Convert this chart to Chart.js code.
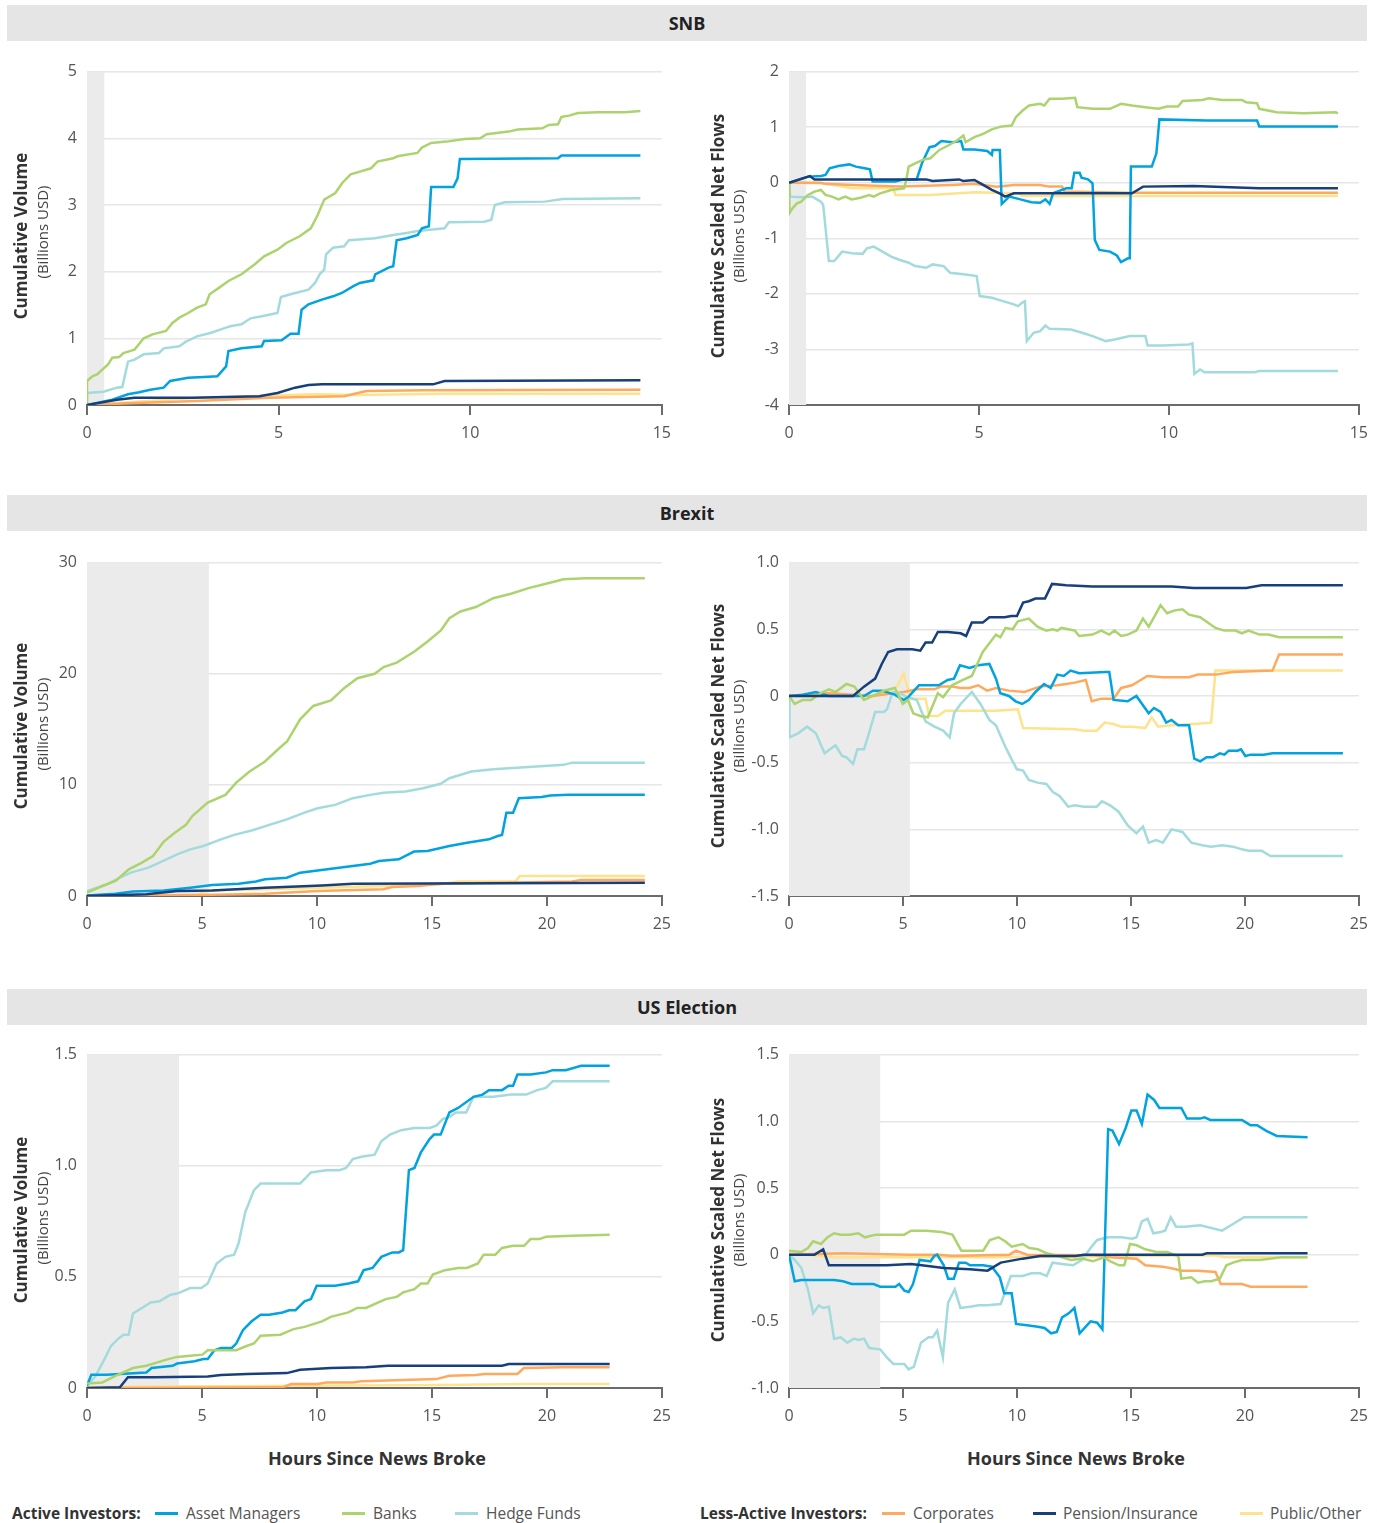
<!DOCTYPE html>
<html>
<head>
<meta charset="utf-8">
<script src="https://cdn.jsdelivr.net/npm/chart.js@4.4.1/dist/chart.umd.min.js"></script>
<style>
  html, body { margin:0; padding:0; background:#fff; }
  body { width:1377px; height:1523px; position:relative; overflow:hidden; font-family:"Open Sans", "Liberation Sans", sans-serif; }
  .hdr { position:absolute; left:7px; width:1360px; height:36px; background:#e5e5e5; color:#222;
         font-weight:700; font-size:18px; line-height:36px; text-align:center; }
  .cv { position:absolute; }
  .yt { position:absolute; white-space:nowrap; transform:translate(-50%,-50%) rotate(-90deg); color:#333; }
  .yt.b { font-weight:700; font-size:17px; }
  .yt.s { font-size:15px; color:#444; }
  .xt { position:absolute; white-space:nowrap; transform:translate(-50%,-50%); font-weight:700; font-size:18px; color:#333; }
  .lg { position:absolute; top:1513px; transform:translateY(-50%); white-space:nowrap; font-size:15.5px; color:#555; }
  .lg.b { font-weight:700; color:#333; }
  .sw { position:absolute; top:1512px; width:23px; height:3px; }
</style>
</head>
<body>
<div class="hdr" style="top:5px">SNB</div>
<div class="hdr" style="top:495px">Brexit</div>
<div class="hdr" style="top:989px">US Election</div>

<div class="cv" style="left:0;top:52px;width:680px;height:397px"><canvas id="c1"></canvas></div>
<div class="cv" style="left:700px;top:52px;width:677px;height:397px"><canvas id="c2"></canvas></div>
<div class="cv" style="left:0;top:543px;width:680px;height:397px"><canvas id="c3"></canvas></div>
<div class="cv" style="left:700px;top:543px;width:677px;height:397px"><canvas id="c4"></canvas></div>
<div class="cv" style="left:0;top:1035px;width:680px;height:397px"><canvas id="c5"></canvas></div>
<div class="cv" style="left:700px;top:1035px;width:677px;height:397px"><canvas id="c6"></canvas></div>

<div class="yt b" style="left:20px;top:236px">Cumulative Volume</div>
<div class="yt s" style="left:42px;top:232px">(Billions USD)</div>
<div class="yt b" style="left:717px;top:236px">Cumulative Scaled Net Flows</div>
<div class="yt s" style="left:738px;top:236px">(Billions USD)</div>
<div class="yt b" style="left:20px;top:726px">Cumulative Volume</div>
<div class="yt s" style="left:42px;top:724px">(Billions USD)</div>
<div class="yt b" style="left:717px;top:726px">Cumulative Scaled Net Flows</div>
<div class="yt s" style="left:738px;top:726px">(Billions USD)</div>
<div class="yt b" style="left:20px;top:1220px">Cumulative Volume</div>
<div class="yt s" style="left:42px;top:1218px">(Billions USD)</div>
<div class="yt b" style="left:717px;top:1220px">Cumulative Scaled Net Flows</div>
<div class="yt s" style="left:738px;top:1220px">(Billions USD)</div>

<div class="xt" style="left:377px;top:1458px">Hours Since News Broke</div>
<div class="xt" style="left:1076px;top:1458px">Hours Since News Broke</div>

<div id="legend"></div>

<script>
// ---------- categories / labels ----------
const groupTitles = ["SNB", "Brexit", "US Election"];
const seriesNames = ["Asset Managers", "Banks", "Hedge Funds", "Corporates", "Pension/Insurance", "Public/Other"];
const seriesColors = ["#00a3e0", "#add36e", "#a3dbdc", "#ffa95e", "#173f7c", "#ffe28c"];
const activeLabel = "Active Investors:";
const lessActiveLabel = "Less-Active Investors:";
const xTitle = "Hours Since News Broke";

// shaded "news window" (hours)
const snbShade = 0.45, brexitShade = 5.3, usShade = 4.0;
// axis ranges / ticks
const snbXMax = 15, otherXMax = 25;
const snbVolTicks = [0, 5, 1];
const snbFlowTicks = [-4, 2, 1];
const brexitVolTicks = [0, 30, 10];
const brexitFlowTicks = [-1.5, 1.0, 0.5];
const usVolTicks = [0, 1.5, 0.5];
const usFlowTicks = [-1.0, 1.5, 0.5];

// ---------- SNB: cumulative volume [hour, value] ----------
const snbVolAsset = [[0,0],[0.66,0.08],[1.07,0.16],[1.36,0.19],[1.65,0.23],[2.0,0.26],[2.17,0.36],[2.64,0.41],[3.05,0.42],[3.4,0.43],[3.63,0.58],[3.69,0.81],[4.03,0.85],[4.56,0.88],[4.62,0.96],[5.08,0.97],[5.31,1.07],[5.52,1.07],[5.6,1.43],[5.78,1.51],[6.13,1.58],[6.42,1.63],[6.65,1.68],[6.94,1.78],[7.12,1.83],[7.47,1.87],[7.52,1.96],[7.87,2.06],[7.99,2.08],[8.08,2.47],[8.34,2.5],[8.63,2.55],[8.74,2.65],[8.92,2.68],[8.98,3.27],[9.56,3.27],[9.67,3.4],[9.73,3.69],[12.29,3.7],[12.38,3.74],[14.44,3.74]];
const snbVolBanks = [[0,0],[0,0.36],[0.14,0.43],[0.26,0.46],[0.55,0.61],[0.66,0.71],[0.84,0.72],[0.95,0.78],[1.24,0.83],[1.48,1.0],[1.71,1.06],[2.06,1.11],[2.23,1.23],[2.41,1.31],[2.64,1.38],[2.87,1.46],[3.1,1.51],[3.2,1.66],[3.45,1.76],[3.69,1.86],[4.03,1.96],[4.38,2.11],[4.62,2.23],[4.97,2.33],[5.2,2.43],[5.55,2.53],[5.84,2.65],[6.02,2.85],[6.19,3.08],[6.48,3.18],[6.66,3.33],[6.88,3.46],[7.12,3.5],[7.41,3.55],[7.58,3.65],[7.99,3.7],[8.1,3.73],[8.62,3.78],[8.74,3.86],[8.98,3.93],[9.38,3.95],[9.85,3.99],[10.26,4.0],[10.43,4.06],[11.0,4.1],[11.24,4.13],[11.88,4.15],[12.05,4.2],[12.29,4.21],[12.38,4.32],[12.58,4.34],[12.81,4.38],[13.34,4.39],[14.03,4.39],[14.44,4.41]];
const snbVolHedge = [[0,0],[0,0.18],[0.43,0.2],[0.78,0.26],[0.92,0.27],[1.07,0.65],[1.24,0.68],[1.48,0.76],[1.88,0.78],[2.0,0.85],[2.41,0.88],[2.58,0.95],[2.87,1.03],[3.22,1.08],[3.57,1.15],[3.74,1.18],[4.03,1.21],[4.27,1.3],[4.56,1.33],[4.97,1.38],[5.06,1.62],[5.31,1.66],[5.78,1.73],[5.95,1.83],[6.07,1.96],[6.19,2.03],[6.24,2.26],[6.42,2.36],[6.71,2.38],[6.83,2.47],[7.52,2.5],[7.99,2.55],[8.34,2.58],[8.63,2.61],[9.33,2.65],[9.44,2.74],[10.37,2.75],[10.55,2.78],[10.64,3.0],[10.9,3.04],[11.95,3.05],[12.41,3.09],[14.44,3.1]];
const snbVolCorp = [[0,0],[1.24,0.03],[2.87,0.06],[4.73,0.11],[6.71,0.13],[7.29,0.21],[8.8,0.22],[14.44,0.23]];
const snbVolPension = [[0,0],[0.78,0.08],[1.24,0.11],[2.76,0.11],[4.5,0.13],[4.97,0.18],[5.43,0.26],[5.78,0.3],[6.13,0.31],[9.03,0.31],[9.33,0.36],[14.44,0.37]];
const snbVolPublic = [[0,0],[1.6,0.06],[2.87,0.11],[5.9,0.16],[7.06,0.15],[9.38,0.17],[14.44,0.17]];

// ---------- SNB: cumulative scaled net flows ----------
const snbFlowAsset = [[0,0],[0.5,0.11],[0.84,0.12],[0.96,0.14],[1.07,0.26],[1.3,0.3],[1.59,0.33],[1.76,0.29],[1.99,0.26],[2.13,0.24],[2.2,0.02],[2.8,0.02],[3.03,0.06],[3.36,0.06],[3.5,0.35],[3.7,0.64],[3.84,0.66],[4.01,0.75],[4.3,0.73],[4.53,0.75],[4.59,0.6],[4.88,0.6],[5.22,0.57],[5.34,0.5],[5.36,0.59],[5.55,0.59],[5.6,-0.38],[5.8,-0.25],[6.09,-0.3],[6.38,-0.35],[6.61,-0.36],[6.75,-0.3],[6.86,-0.38],[6.95,-0.19],[7.3,-0.1],[7.44,-0.1],[7.51,0.18],[7.65,0.18],[7.7,0.09],[7.87,0.06],[7.99,-0.01],[8.05,-1.03],[8.17,-1.21],[8.45,-1.24],[8.63,-1.31],[8.74,-1.43],[8.92,-1.36],[8.97,-1.36],[9.0,0.29],[9.55,0.29],[9.67,0.53],[9.75,1.14],[11.0,1.12],[12.32,1.12],[12.38,1.01],[14.45,1.01]];
const snbFlowBanks = [[0,0],[0.01,-0.55],[0.09,-0.46],[0.21,-0.37],[0.32,-0.34],[0.5,-0.22],[0.67,-0.16],[0.84,-0.13],[0.96,-0.22],[1.13,-0.25],[1.3,-0.3],[1.48,-0.25],[1.65,-0.3],[1.88,-0.27],[2.11,-0.22],[2.23,-0.25],[2.4,-0.19],[2.69,-0.13],[3.03,-0.1],[3.09,0.06],[3.15,0.29],[3.32,0.35],[3.55,0.42],[3.72,0.44],[3.96,0.59],[4.19,0.67],[4.42,0.76],[4.59,0.85],[4.65,0.73],[4.88,0.82],[5.11,0.88],[5.34,0.96],[5.57,1.01],[5.86,1.03],[5.97,1.18],[6.15,1.3],[6.32,1.39],[6.61,1.42],[6.72,1.39],[6.86,1.51],[7.19,1.51],[7.53,1.53],[7.59,1.36],[7.99,1.33],[8.45,1.33],[8.74,1.42],[9.03,1.39],[9.38,1.36],[9.72,1.33],[9.95,1.37],[10.24,1.37],[10.36,1.47],[10.88,1.49],[11.05,1.52],[11.4,1.49],[11.92,1.49],[12.03,1.45],[12.32,1.43],[12.38,1.33],[12.84,1.27],[13.53,1.25],[14.39,1.27],[14.45,1.25]];
const snbFlowHedge = [[0,0],[0.03,-0.25],[0.38,-0.26],[0.61,-0.25],[0.84,-0.34],[0.9,-0.4],[1.05,-1.41],[1.19,-1.41],[1.4,-1.24],[1.65,-1.27],[1.94,-1.28],[2.05,-1.18],[2.23,-1.15],[2.46,-1.24],[2.69,-1.33],[2.92,-1.39],[3.15,-1.44],[3.32,-1.5],[3.61,-1.53],[3.78,-1.47],[4.07,-1.5],[4.24,-1.62],[4.65,-1.65],[4.94,-1.68],[5.02,-2.04],[5.34,-2.07],[5.63,-2.13],[5.92,-2.19],[6.03,-2.22],[6.15,-2.15],[6.21,-2.13],[6.26,-2.85],[6.44,-2.7],[6.61,-2.67],[6.75,-2.57],[6.86,-2.63],[7.42,-2.64],[7.76,-2.71],[7.99,-2.76],[8.34,-2.85],[8.57,-2.82],[8.97,-2.76],[9.38,-2.76],[9.44,-2.93],[9.84,-2.93],[10.53,-2.91],[10.62,-2.89],[10.67,-3.44],[10.82,-3.36],[10.94,-3.41],[12.26,-3.41],[12.38,-3.39],[14.45,-3.39]];
const snbFlowCorp = [[0,0],[0.84,0],[0.96,-0.02],[1.65,-0.04],[2.92,-0.07],[4.3,-0.04],[4.88,-0.02],[5.46,-0.07],[5.92,-0.04],[6.61,-0.04],[6.84,-0.07],[7.19,-0.07],[7.25,-0.16],[8.92,-0.18],[14.45,-0.18]];
const snbFlowPension = [[0,0],[0.55,0.12],[0.67,0.06],[0.84,0.06],[3.61,0.06],[3.78,0.03],[4.48,0.06],[4.59,0.03],[4.88,0.05],[5.11,-0.04],[5.34,-0.13],[5.57,-0.2],[5.69,-0.25],[5.92,-0.19],[6.15,-0.19],[9.03,-0.19],[9.32,-0.07],[10.65,-0.06],[12.38,-0.1],[14.45,-0.1]];
const snbFlowPublic = [[0,0],[0.84,-0.01],[1.19,-0.04],[1.65,-0.1],[2.75,-0.1],[2.8,-0.22],[3.72,-0.22],[4.88,-0.17],[6.03,-0.19],[6.15,-0.24],[14.45,-0.24]];

// ---------- Brexit: cumulative volume ----------
const brexitVolAsset = [[0,0.05],[1.24,0.2],[2.0,0.4],[3.34,0.5],[4.49,0.75],[5.44,1.0],[6.59,1.1],[7.35,1.3],[7.74,1.5],[8.69,1.65],[9.27,2.1],[10.03,2.3],[10.79,2.5],[11.56,2.7],[12.32,2.9],[12.7,3.15],[13.56,3.3],[14.22,4.0],[14.81,4.05],[15.76,4.5],[16.53,4.8],[17.48,5.1],[17.86,5.4],[18.05,5.5],[18.24,7.5],[18.53,7.5],[18.78,8.8],[19.77,8.9],[20.15,9.05],[20.92,9.1],[24.26,9.1]];
const brexitVolBanks = [[0,0.3],[0.67,0.9],[1.24,1.35],[1.82,2.4],[2.39,3.0],[2.87,3.6],[3.34,4.9],[3.82,5.7],[4.3,6.4],[4.58,7.2],[5.25,8.4],[6.02,9.1],[6.49,10.2],[7.07,11.2],[7.74,12.1],[8.31,13.2],[8.7,13.9],[9.27,15.9],[9.84,17.1],[10.61,17.6],[11.18,18.7],[11.76,19.6],[12.51,20.0],[12.9,20.6],[13.47,21.0],[14.24,22.0],[14.81,22.9],[15.39,23.9],[15.76,25.0],[16.24,25.6],[16.91,26.0],[17.67,26.8],[18.44,27.2],[19.2,27.7],[19.96,28.1],[20.73,28.5],[21.68,28.6],[24.26,28.6]];
const brexitVolHedge = [[0,0.45],[0.86,1.05],[1.43,1.65],[1.91,2.1],[2.67,2.55],[3.15,3.0],[3.92,3.75],[4.49,4.2],[5.06,4.5],[5.83,5.1],[6.4,5.5],[7.16,5.9],[7.93,6.4],[8.69,6.9],[9.46,7.5],[10.03,7.9],[10.79,8.2],[11.56,8.8],[12.32,9.1],[12.89,9.3],[13.85,9.4],[14.61,9.7],[15.38,10.1],[15.76,10.6],[16.72,11.2],[17.67,11.4],[19.2,11.6],[20.73,11.8],[21.1,12.0],[24.26,12.0]];
const brexitVolCorp = [[0,0],[5.06,0.1],[7.74,0.2],[10.03,0.45],[12.89,0.6],[13.27,0.8],[14.42,0.9],[15.38,1.1],[21.1,1.3],[21.49,1.45],[24.26,1.45]];
const brexitVolPension = [[0,0],[2.58,0.15],[3.92,0.45],[5.44,0.5],[7.74,0.75],[10.22,0.95],[11.56,1.1],[24.26,1.2]];
const brexitVolPublic = [[0,0],[4.87,0.1],[5.16,0.5],[7.74,0.6],[10.03,0.75],[15.38,1.05],[16.15,1.3],[18.63,1.3],[18.82,1.8],[24.26,1.8]];

// ---------- Brexit: cumulative scaled net flows ----------
const brexitFlowAsset = [[0,0],[0.6,0.01],[1.18,0.03],[1.75,0.0],[3.29,0.0],[3.68,0.04],[4.07,0.04],[4.64,0.01],[5.03,-0.03],[5.22,-0.01],[5.7,0.08],[6.57,0.08],[6.96,0.12],[7.24,0.13],[7.5,0.23],[7.92,0.21],[8.3,0.23],[8.79,0.24],[9.08,0.13],[9.27,0.02],[9.65,0.0],[9.94,-0.04],[10.23,-0.06],[10.52,-0.03],[10.81,0.03],[11.19,0.09],[11.48,0.06],[11.77,0.16],[12.06,0.15],[12.35,0.19],[12.73,0.17],[13.89,0.18],[14.05,0.18],[14.24,-0.03],[14.86,-0.04],[15.24,0.0],[15.78,-0.13],[16.01,-0.09],[16.3,-0.12],[16.55,-0.2],[16.78,-0.18],[17.07,-0.22],[17.55,-0.22],[17.78,-0.47],[18.04,-0.49],[18.32,-0.46],[18.6,-0.46],[18.9,-0.43],[19.1,-0.44],[19.29,-0.41],[19.68,-0.41],[19.83,-0.4],[20.02,-0.45],[20.25,-0.44],[20.83,-0.44],[21.21,-0.43],[24.3,-0.43]];
const brexitFlowBanks = [[0,0],[0.25,-0.06],[0.6,-0.03],[0.98,-0.03],[1.37,0.02],[1.75,0.05],[2.04,0.03],[2.52,0.09],[2.87,0.07],[3.29,-0.03],[3.68,0.0],[4.16,0.04],[4.64,0.06],[4.99,-0.06],[5.22,-0.03],[5.45,-0.13],[5.76,-0.15],[6.09,-0.16],[6.53,0.02],[6.76,-0.01],[7.15,0.08],[7.63,0.12],[8.02,0.15],[8.5,0.33],[9.08,0.46],[9.27,0.44],[9.5,0.51],[9.81,0.5],[10.04,0.56],[10.52,0.58],[10.9,0.52],[11.29,0.49],[11.58,0.5],[11.77,0.49],[11.96,0.51],[12.54,0.49],[12.73,0.45],[13.31,0.46],[13.7,0.49],[14.05,0.46],[14.28,0.49],[14.57,0.45],[14.86,0.46],[15.24,0.49],[15.53,0.58],[15.78,0.52],[16.01,0.59],[16.3,0.68],[16.59,0.62],[16.88,0.64],[17.26,0.65],[17.55,0.61],[18.04,0.59],[18.71,0.51],[19.1,0.49],[19.58,0.49],[19.87,0.47],[20.16,0.49],[20.64,0.46],[21.03,0.46],[21.5,0.44],[24.3,0.44]];
const brexitFlowHedge = [[0,0],[0.02,-0.31],[0.4,-0.28],[0.79,-0.23],[1.18,-0.28],[1.56,-0.43],[2.04,-0.37],[2.33,-0.45],[2.52,-0.46],[2.81,-0.51],[3.0,-0.4],[3.29,-0.4],[3.49,-0.29],[3.78,-0.12],[4.16,-0.12],[4.3,-0.1],[4.55,0.03],[4.84,0.02],[5.22,-0.01],[5.61,-0.03],[5.99,-0.19],[6.38,-0.23],[6.76,-0.26],[7.05,-0.31],[7.24,-0.13],[7.53,-0.06],[8.02,0.03],[8.4,-0.06],[8.79,-0.18],[9.08,-0.22],[9.46,-0.37],[9.75,-0.47],[10.0,-0.55],[10.27,-0.56],[10.52,-0.63],[10.9,-0.65],[11.29,-0.66],[11.58,-0.72],[11.87,-0.75],[12.25,-0.83],[12.54,-0.82],[12.93,-0.83],[13.5,-0.83],[13.73,-0.79],[14.09,-0.82],[14.47,-0.87],[14.86,-0.97],[15.24,-1.03],[15.53,-0.98],[15.78,-1.1],[16.11,-1.08],[16.4,-1.1],[16.78,-1.0],[17.26,-1.02],[17.65,-1.1],[18.13,-1.12],[18.52,-1.13],[19.0,-1.12],[19.48,-1.13],[19.87,-1.15],[20.16,-1.16],[20.73,-1.16],[21.12,-1.2],[24.3,-1.2]];
const brexitFlowCorp = [[0,0],[1.75,0.02],[3.68,0.0],[5.03,0.03],[5.61,0.05],[6.38,0.05],[6.67,0.07],[7.15,0.07],[7.53,0.06],[7.92,0.06],[8.3,0.08],[8.69,0.04],[9.08,0.06],[9.65,0.04],[10.33,0.03],[11.0,0.07],[11.77,0.08],[12.16,0.09],[12.54,0.1],[13.02,0.12],[13.28,-0.04],[13.7,-0.02],[14.24,-0.02],[14.57,0.06],[15.05,0.08],[15.43,0.12],[15.72,0.15],[16.4,0.14],[17.55,0.14],[17.94,0.16],[18.71,0.16],[19.48,0.18],[21.21,0.19],[21.5,0.31],[24.3,0.31]];
const brexitFlowPension = [[0,0],[2.81,0],[3.29,0.07],[3.78,0.13],[4.07,0.24],[4.35,0.33],[4.74,0.35],[5.41,0.35],[5.76,0.34],[5.99,0.4],[6.28,0.4],[6.53,0.48],[6.96,0.48],[7.53,0.47],[7.77,0.45],[8.02,0.55],[8.5,0.55],[8.79,0.59],[9.46,0.59],[9.75,0.6],[10.0,0.6],[10.27,0.7],[10.52,0.71],[10.81,0.73],[11.23,0.73],[11.54,0.84],[12.16,0.83],[13.31,0.82],[14.86,0.82],[16.78,0.82],[17.75,0.81],[20.06,0.81],[20.73,0.83],[24.3,0.83]];
const brexitFlowPublic = [[0,0],[3.68,0.0],[4.26,0.03],[4.74,0.07],[5.03,0.17],[5.32,-0.02],[5.99,-0.02],[6.15,-0.15],[6.53,-0.15],[6.86,-0.11],[9.08,-0.11],[10.04,-0.1],[10.27,-0.24],[12.54,-0.25],[12.93,-0.26],[13.5,-0.26],[13.85,-0.2],[14.24,-0.21],[14.57,-0.23],[15.05,-0.23],[15.63,-0.24],[15.91,-0.16],[16.2,-0.23],[16.78,-0.22],[17.75,-0.21],[18.52,-0.2],[18.71,0.19],[24.3,0.19]];

// ---------- US Election: cumulative volume ----------
const usVolAsset = [[0,0.01],[0.19,0.06],[0.86,0.06],[2.58,0.07],[2.81,0.09],[3.72,0.1],[3.92,0.11],[4.68,0.12],[5.06,0.13],[5.25,0.13],[5.54,0.17],[5.83,0.18],[6.3,0.18],[6.49,0.2],[6.78,0.26],[7.16,0.3],[7.55,0.33],[7.93,0.33],[8.5,0.34],[8.79,0.35],[9.07,0.35],[9.46,0.39],[9.74,0.4],[9.99,0.46],[10.79,0.46],[11.37,0.47],[11.56,0.475],[11.79,0.48],[12.03,0.53],[12.42,0.54],[12.8,0.59],[13.28,0.61],[13.56,0.61],[13.75,0.62],[14.0,0.98],[14.24,0.99],[14.52,1.06],[14.9,1.12],[15.09,1.14],[15.38,1.14],[15.76,1.24],[16.14,1.26],[16.81,1.31],[17.2,1.32],[17.48,1.34],[18.05,1.34],[18.34,1.36],[18.53,1.36],[18.72,1.41],[19.29,1.41],[19.96,1.42],[20.25,1.43],[20.82,1.43],[21.49,1.45],[22.73,1.45]];
const usVolBanks = [[0,0.02],[0.67,0.025],[1.24,0.055],[2.0,0.09],[2.58,0.1],[3.53,0.13],[3.92,0.14],[4.49,0.145],[5.02,0.15],[5.25,0.17],[6.49,0.17],[6.97,0.19],[7.26,0.2],[7.55,0.235],[8.41,0.24],[8.98,0.265],[9.46,0.275],[10.22,0.3],[10.6,0.32],[11.37,0.34],[11.75,0.36],[12.13,0.36],[12.99,0.4],[13.47,0.41],[13.75,0.43],[14.24,0.445],[14.52,0.47],[14.81,0.47],[15.04,0.51],[15.57,0.53],[16.14,0.54],[16.52,0.54],[17.0,0.56],[17.25,0.6],[17.76,0.6],[18.05,0.63],[18.53,0.64],[19.01,0.64],[19.29,0.67],[19.67,0.67],[19.96,0.68],[21.1,0.685],[22.73,0.69]];
const usVolHedge = [[0,0.01],[0.38,0.055],[0.76,0.13],[1.05,0.19],[1.34,0.22],[1.59,0.24],[1.81,0.24],[2.0,0.335],[2.39,0.36],[2.77,0.385],[3.15,0.39],[3.63,0.42],[3.92,0.425],[4.49,0.45],[4.97,0.45],[5.25,0.47],[5.64,0.56],[6.02,0.59],[6.4,0.6],[6.59,0.65],[6.88,0.79],[7.26,0.89],[7.55,0.92],[8.5,0.92],[9.27,0.92],[9.74,0.97],[10.41,0.98],[10.98,0.98],[11.27,0.99],[11.56,1.03],[11.94,1.04],[12.51,1.05],[12.8,1.11],[13.18,1.14],[13.66,1.16],[14.24,1.17],[14.9,1.17],[15.19,1.18],[15.47,1.21],[15.76,1.22],[16.05,1.24],[16.49,1.24],[16.81,1.31],[17.67,1.31],[18.44,1.32],[19.1,1.32],[19.58,1.34],[19.96,1.35],[20.25,1.38],[22.73,1.38]];
const usVolCorp = [[0,0],[8.5,0.003],[8.88,0.018],[10.03,0.018],[10.41,0.025],[11.56,0.025],[11.94,0.03],[15.19,0.04],[15.76,0.055],[16.91,0.058],[17.29,0.063],[18.72,0.063],[19.0,0.09],[20.73,0.093],[22.73,0.093]];
const usVolPension = [[0,0],[1.43,0.003],[1.78,0.048],[2.96,0.048],[5.25,0.052],[5.83,0.058],[6.97,0.063],[8.69,0.067],[9.27,0.082],[10.6,0.09],[12.13,0.093],[13.09,0.1],[18.05,0.1],[18.34,0.108],[22.73,0.108]];
const usVolPublic = [[0,0.003],[3.92,0.007],[15.38,0.013],[19.2,0.018],[22.73,0.018]];

// ---------- US Election: cumulative scaled net flows ----------
const usFlowAsset = [[0,0],[0.25,-0.2],[0.54,-0.19],[1.12,-0.19],[1.98,-0.19],[2.37,-0.2],[2.75,-0.22],[3.33,-0.22],[3.71,-0.22],[4.0,-0.24],[4.67,-0.24],[4.83,-0.22],[5.06,-0.27],[5.25,-0.28],[5.44,-0.22],[5.73,-0.04],[6.21,-0.05],[6.37,-0.01],[6.5,0.0],[6.79,-0.08],[6.98,-0.18],[7.23,-0.18],[7.46,-0.06],[7.75,-0.06],[7.94,-0.08],[8.52,-0.08],[8.9,-0.09],[9.25,-0.17],[9.44,-0.29],[9.77,-0.29],[9.96,-0.52],[10.44,-0.53],[10.92,-0.54],[11.21,-0.55],[11.5,-0.59],[11.75,-0.58],[11.98,-0.47],[12.27,-0.44],[12.52,-0.4],[12.75,-0.59],[13.23,-0.5],[13.52,-0.51],[13.75,-0.56],[14.0,0.94],[14.19,0.93],[14.48,0.83],[14.77,0.95],[15.02,1.08],[15.25,1.08],[15.48,0.98],[15.73,1.2],[16.02,1.16],[16.25,1.1],[17.21,1.1],[17.46,1.02],[18.04,1.02],[18.23,1.03],[18.48,1.01],[19.87,1.01],[20.06,0.99],[20.25,0.97],[20.54,0.97],[20.92,0.93],[21.4,0.89],[22.75,0.88]];
const usFlowBanks = [[0,0.03],[0.54,0.02],[0.83,0.05],[1.06,0.1],[1.4,0.08],[1.69,0.13],[1.98,0.16],[2.27,0.15],[2.65,0.15],[3.04,0.16],[3.33,0.13],[3.81,0.15],[4.29,0.15],[5.06,0.15],[5.35,0.18],[6.02,0.18],[6.69,0.17],[7.17,0.15],[7.56,0.03],[8.52,0.03],[8.81,0.11],[9.19,0.13],[9.48,0.1],[9.77,0.06],[10.25,0.08],[10.54,0.05],[10.92,0.04],[11.31,0.01],[11.79,-0.01],[12.37,-0.04],[12.85,-0.03],[13.33,-0.05],[13.81,-0.02],[14.1,-0.05],[14.48,-0.08],[14.71,-0.08],[14.96,0.08],[15.25,0.07],[15.63,0.04],[16.12,0.02],[16.6,0.02],[16.88,0.0],[17.08,-0.01],[17.21,-0.18],[17.65,-0.17],[17.94,-0.21],[18.23,-0.2],[18.52,-0.2],[18.9,-0.18],[19.19,-0.08],[19.48,-0.06],[19.87,-0.04],[20.63,-0.04],[21.6,-0.02],[22.75,-0.02]];
const usFlowHedge = [[0,0],[0.25,-0.04],[0.54,-0.1],[0.83,-0.26],[1.06,-0.44],[1.31,-0.38],[1.5,-0.4],[1.75,-0.39],[1.98,-0.63],[2.27,-0.62],[2.56,-0.66],[2.85,-0.63],[3.04,-0.64],[3.29,-0.63],[3.52,-0.7],[4.0,-0.71],[4.29,-0.77],[4.58,-0.82],[5.06,-0.82],[5.25,-0.86],[5.48,-0.84],[5.79,-0.66],[6.12,-0.62],[6.31,-0.62],[6.5,-0.57],[6.75,-0.77],[6.98,-0.36],[7.27,-0.26],[7.52,-0.4],[7.94,-0.39],[8.33,-0.38],[8.71,-0.38],[9.29,-0.37],[9.73,-0.16],[10.25,-0.16],[10.63,-0.14],[11.02,-0.14],[11.31,-0.16],[11.56,-0.06],[11.98,-0.07],[12.46,-0.08],[12.85,-0.04],[13.23,0.05],[13.52,0.11],[14.0,0.13],[14.58,0.13],[15.06,0.12],[15.25,0.13],[15.48,0.25],[15.73,0.27],[15.98,0.16],[16.31,0.17],[16.5,0.18],[16.75,0.28],[16.98,0.21],[17.37,0.21],[18.04,0.22],[19.0,0.18],[19.48,0.23],[19.96,0.28],[22.75,0.28]];
const usFlowCorp = [[0,0],[2.37,0.01],[5.25,0.0],[6.6,0.0],[7.17,-0.01],[8.52,-0.005],[9.67,0.0],[9.96,0.03],[10.44,0.0],[13.33,-0.005],[14.1,-0.02],[15.25,-0.03],[15.63,-0.08],[16.4,-0.09],[16.98,-0.11],[17.17,-0.12],[17.94,-0.12],[18.71,-0.13],[18.94,-0.22],[19.87,-0.22],[20.25,-0.24],[22.75,-0.24]];
const usFlowPension = [[0,0],[1.12,0],[1.5,0.04],[1.75,-0.08],[3.33,-0.08],[4.29,-0.08],[5.35,-0.07],[5.83,-0.08],[6.79,-0.1],[7.94,-0.11],[8.71,-0.12],[9.29,-0.06],[10.25,-0.03],[11.02,-0.01],[12.56,-0.01],[12.94,0],[18.13,0],[18.33,0.01],[22.75,0.01]];
const usFlowPublic = [[0,0.01],[1.98,-0.02],[5.25,-0.02],[9.1,-0.02],[14.87,-0.01],[18.71,-0.005],[19.1,-0.02],[22.75,-0.02]];

// ---------- build ----------
const shadePlugin = {
  id: 'newsShade',
  beforeDatasetsDraw(chart, args, opts) {
    const {ctx, chartArea, scales} = chart;
    const x0 = scales.x.getPixelForValue(0);
    const x1 = scales.x.getPixelForValue(opts.to);
    ctx.save();
    ctx.fillStyle = '#ebebeb';
    ctx.fillRect(x0, chartArea.top, x1 - x0, chartArea.bottom - chartArea.top);
    ctx.restore();
  }
};

const FONT = '"Open Sans", "Liberation Sans", sans-serif';

function fmt(v, dec) {
  if (Math.abs(v) < 1e-9) return '0';
  return dec ? v.toFixed(1) : String(Math.round(v));
}

function makeChart(id, seriesList, xMax, yTicks, dec, shadeTo, yAxisWidth) {
  const drawOrder = [3, 2, 4, 5, 1, 6]; // lower order drawn on top
  const datasets = seriesList.map((pts, i) => ({
    label: seriesNames[i],
    data: pts.map(p => ({x: p[0], y: p[1]})),
    borderColor: seriesColors[i],
    backgroundColor: seriesColors[i],
    borderWidth: 2.5,
    pointRadius: 0,
    tension: 0,
    fill: false,
    order: drawOrder[i]
  }));
  return new Chart(document.getElementById(id), {
    type: 'line',
    data: { datasets },
    plugins: [shadePlugin],
    options: {
      responsive: true,
      maintainAspectRatio: false,
      animation: false,
      events: [],
      layout: { padding: { top: 12, right: 18, left: 0, bottom: 0 } },
      plugins: {
        legend: { display: false },
        tooltip: { enabled: false },
        newsShade: { to: shadeTo }
      },
      scales: {
        x: {
          type: 'linear', min: 0, max: xMax,
          ticks: { stepSize: 5, padding: 9, color: '#555', font: { family: FONT, size: 16 }, maxRotation: 0 },
          grid: { drawOnChartArea: false, drawTicks: true, tickLength: 10, color: '#6b6b6b', lineWidth: 2 },
          border: { display: true, color: '#6b6b6b', width: 2 },
          afterFit(s) { s.height = 44; }
        },
        y: {
          type: 'linear', min: yTicks[0], max: yTicks[1],
          ticks: { stepSize: yTicks[2], padding: 10, color: '#555', font: { family: FONT, size: 16 },
                   callback: v => fmt(v, dec) },
          grid: { drawTicks: false, color: '#e6e6e6', lineWidth: 1.5 },
          border: { display: false },
          afterFit(s) { s.width = yAxisWidth; }
        }
      }
    }
  });
}

makeChart('c1', [snbVolAsset, snbVolBanks, snbVolHedge, snbVolCorp, snbVolPension, snbVolPublic], snbXMax, snbVolTicks, false, snbShade, 87);
makeChart('c2', [snbFlowAsset, snbFlowBanks, snbFlowHedge, snbFlowCorp, snbFlowPension, snbFlowPublic], snbXMax, snbFlowTicks, false, snbShade, 89);
makeChart('c3', [brexitVolAsset, brexitVolBanks, brexitVolHedge, brexitVolCorp, brexitVolPension, brexitVolPublic], otherXMax, brexitVolTicks, false, brexitShade, 87);
makeChart('c4', [brexitFlowAsset, brexitFlowBanks, brexitFlowHedge, brexitFlowCorp, brexitFlowPension, brexitFlowPublic], otherXMax, brexitFlowTicks, true, brexitShade, 89);
makeChart('c5', [usVolAsset, usVolBanks, usVolHedge, usVolCorp, usVolPension, usVolPublic], otherXMax, usVolTicks, true, usShade, 87);
makeChart('c6', [usFlowAsset, usFlowBanks, usFlowHedge, usFlowCorp, usFlowPension, usFlowPublic], otherXMax, usFlowTicks, true, usShade, 89);

// ---------- legend (HTML text) ----------
const legendItems = [
  {type: 'head', text: activeLabel, x: 12},
  {type: 'item', idx: 0, sw: 155, x: 186},
  {type: 'item', idx: 1, sw: 342, x: 373},
  {type: 'item', idx: 2, sw: 455, x: 486},
  {type: 'head', text: lessActiveLabel, x: 700},
  {type: 'item', idx: 3, sw: 882, x: 913},
  {type: 'item', idx: 4, sw: 1033, x: 1063},
  {type: 'item', idx: 5, sw: 1240, x: 1270}
];
const lg = document.getElementById('legend');
legendItems.forEach(it => {
  if (it.type === 'head') {
    const d = document.createElement('div');
    d.className = 'lg b'; d.style.left = it.x + 'px'; d.textContent = it.text;
    lg.appendChild(d);
  } else {
    const s = document.createElement('div');
    s.className = 'sw'; s.style.left = it.sw + 'px'; s.style.background = seriesColors[it.idx];
    lg.appendChild(s);
    const d = document.createElement('div');
    d.className = 'lg'; d.style.left = it.x + 'px'; d.textContent = seriesNames[it.idx];
    lg.appendChild(d);
  }
});
</script>
</body>
</html>
